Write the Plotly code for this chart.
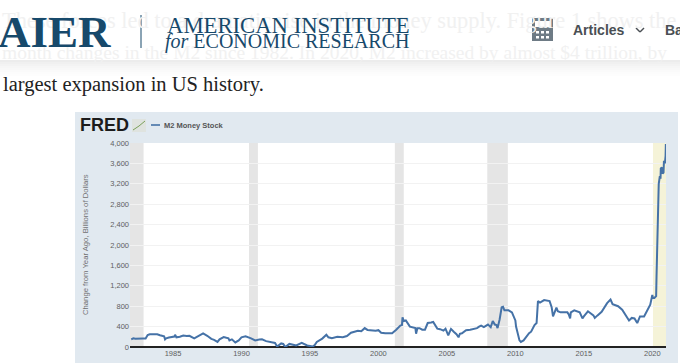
import plotly.graph_objects as go

W, H = 680, 363

# ---- data ----
years = [1981.95,1982.1,1982.25,1982.4,1982.6,1982.8,1983.0,1983.15,1983.3,1983.6,1983.85,1984.05,1984.2,1984.35,1984.42,1984.5,1984.7,1985.0,1985.1,1985.15,1985.25,1985.5,1985.75,
 1986.0,1986.2,1986.55,1986.85,1987.0,1987.2,1987.5,1987.8,1988.0,1988.1,1988.25,1988.4,1988.7,1988.9,1989.05,1989.12,1989.3,1989.55,1989.8,1990.0,1990.3,1990.7,
 1991.0,1991.3,1991.5,1991.8,1992.2,1992.45,1992.6,1992.9,1993.05,1993.2,1993.5,1993.8,1994.0,1994.4,1994.8,1995.2,1995.35,1995.5,1995.9,1996.2,1996.35,1996.6,1997.0,1997.4,1997.7,
 1998.0,1998.5,1998.75,1999.0,1999.2,1999.4,1999.8,2000.0,2000.2,2000.5,2000.75,2001.0,2001.3,2001.6,2001.72,2001.76,2001.85,2002.0,2002.3,2002.5,2002.7,2002.75,2002.8,2002.85,2003.0,2003.2,2003.4,2003.6,2003.85,2004.0,
 2004.3,2004.5,2004.75,2004.9,2005.1,2005.3,2005.5,2005.7,2005.85,2005.95,2006.1,2006.4,2006.7,2007.0,2007.2,2007.35,2007.5,2007.7,2008.0,2008.2,2008.35,2008.5,2008.62,2008.7,2008.85,2009.0,2009.1,2009.2,2009.5,2009.75,2009.9,2010.0,2010.05,
 2010.3,2010.4,2010.6,2011.0,2011.15,2011.4,2011.55,2011.65,2011.8,2012.1,2012.5,2012.65,2012.75,2013.0,2013.1,2013.3,2013.8,2013.9,2014.0,2014.05,2014.3,2014.7,2014.9,2015.0,2015.3,2015.7,2015.8,
 2016.0,2016.3,2016.7,2016.95,2017.1,2017.5,2017.8,2018.0,2018.3,2018.5,2018.7,2018.9,2019.0,2019.1,2019.4,2019.7,2019.85,2020.0,2020.05,2020.15,2020.28,2020.31,2020.35,2020.38,2020.42,2020.47,
 2020.55,2020.6,2020.62,2020.7,2020.75,2020.82,2020.85,2020.92,2020.97,2020.99,2021.0]
m2_change = [150,170,160,165,160,165,165,235,250,245,250,230,220,210,150,170,185,190,205,240,190,200,225,
 215,220,170,215,235,265,220,160,140,130,100,150,195,180,170,130,150,90,130,190,210,170,
 130,145,150,115,100,80,10,70,60,0,60,40,30,80,30,10,40,100,165,240,190,170,200,190,215,
 280,320,310,370,335,330,320,330,280,270,275,270,340,420,430,580,510,520,400,380,370,260,365,370,370,340,340,470,480,490,
 360,350,320,360,230,355,300,250,190,260,270,330,340,365,370,400,420,390,440,390,510,440,430,370,540,780,790,720,720,680,590,520,400,
 130,100,130,270,300,430,470,900,870,920,900,780,600,770,700,680,680,640,560,680,720,680,560,600,700,620,570,
 620,690,860,930,840,800,730,640,520,570,560,470,520,600,600,760,830,1020,960,960,1000,1400,2000,2600,3180,3200,
 3350,3300,3500,3520,3400,3420,3650,3600,3750,3980,3700]
recessions = [(1981.86,1982.85),(1990.55,1991.2),(2001.2,2001.85),(2007.95,2009.45)]
highlight = (2020.05,2021.0)
y_ticks = [0,400,800,1200,1600,2000,2400,2800,3200,3600,4000]
x_ticks = [1985,1990,1995,2000,2005,2010,2015,2020]

def px(x): return x / W
def py(y): return 1 - y / H

NAVY = "#17496b"
SANS = "Liberation Sans"
SERIF = "Liberation Serif"

shapes, ann = [], []
def rect(x0,y0,x1,y1,fill):
    shapes.append(dict(type="rect",xref="paper",yref="paper",x0=px(x0),x1=px(x1),y0=py(y0),y1=py(y1),
                       fillcolor=fill,line_width=0,layer="below"))
def seg(x0,y0,x1,y1,color,w=1):
    shapes.append(dict(type="line",xref="paper",yref="paper",x0=px(x0),x1=px(x1),y0=py(y0),y1=py(y1),
                       line=dict(color=color,width=w),layer="below"))
def text(x,y,t,size,color,font=SANS,bold=False,anchor="left"):
    ann.append(dict(xref="paper",yref="paper",x=px(x),y=py(y),text=("<b>%s</b>"%t if bold else t),showarrow=False,
                    xanchor=anchor,yanchor="middle",borderpad=0,borderwidth=0,
                    font=dict(size=size,color=color,family=font)))

# chart panel
rect(75,112,678,363,"#e1e9f0")
rect(130,143,666,347,"#ffffff")
for a,b in recessions:
    shapes.append(dict(type="rect",xref="x",yref="paper",x0=a,x1=b,y0=py(347),y1=py(143),fillcolor="#e5e5e5",line_width=0,layer="below"))
shapes.append(dict(type="rect",xref="x",yref="paper",x0=highlight[0],x1=highlight[1],y0=py(347),y1=py(143),fillcolor="#f5f3d8",line_width=0,layer="below"))

# page text behind header
text(3,84,"largest expansion in US history.",20.5,"#222222",SERIF)
text(2,20,"These forces led to a dramatic rise in the money supply. Figure 1 shows the",22.4,"#f1f1f1",SERIF)
text(2,52,"month changes in the M2 since 1982. In 2020, M2 increased by almost $4 trillion, by",19.5,"#f1f1f1",SERIF)

# header shadow
for i,c in enumerate(["#ececec","#f0f0f0","#f3f3f3","#f6f6f6","#f8f8f8","#fafafa","#fcfcfc","#fdfdfd"]):
    rect(0,60+i*2,W,62+i*2,c)

# logo
text(-2,32,"AIER",45,NAVY,SERIF,True)
seg(141,15,141,48,NAVY,1)
text(167,25,"AMERICAN INSTITUTE",22.7,NAVY,SERIF)
text(165,41,"<i>for</i> ECONOMIC RESEARCH",20,NAVY,SERIF)

# nav
rect(532,18,553,41,"#6e7b85")
rect(535,21,550,27,"#ffffff")
for yy in (31,36):
    for xx in (536,541,546):
        rect(xx,yy,xx+3,yy+2.5,"#ffffff")
text(573,30,"Articles",14,"#4a4f54",SANS,True)
seg(636,28,640,32,"#4a4f54",1.5); seg(640,32,644,28,"#4a4f54",1.5)
text(665,30,"Ba",14,"#4a4f54",SANS,True)

# FRED header
text(80,125,"FRED",18,"#1c1c1c",SANS,True)
rect(132,119,146,132,"#dfe3df")
seg(133,130,139,126,"#7aa05a",1); seg(139,126,145,121,"#7aa05a",1)
seg(151,125,160,125,"#4572a7",1.6)
text(164,125,"M2 Money Stock",7.5,"#555555",SANS,True)
ann.append(dict(xref="paper",yref="paper",x=px(85),y=py(245),text="Change from Year Ago, Billions of Dollars",textangle=-90,
                showarrow=False,xanchor="center",yanchor="middle",font=dict(size=7.7,color="#707070",family=SANS)))

fig = go.Figure(go.Scatter(x=years,y=m2_change,mode="lines",line=dict(color="#4572a7",width=2),
                           hoverinfo="skip",showlegend=False))
fig.update_layout(width=W,height=H,margin=dict(l=0,r=0,t=0,b=0),autosize=False,paper_bgcolor="#ffffff",plot_bgcolor="rgba(0,0,0,0)",
    shapes=shapes,annotations=ann,showlegend=False,
    font=dict(family=SANS,size=7.5,color="#555555"),
    xaxis=dict(domain=[px(130),px(666)],range=[1981.86,2021.0],automargin=False,tickmode="array",tickvals=x_ticks,ticktext=[str(v) for v in x_ticks],
               showgrid=False,zeroline=False,showline=False,ticks="",tickfont=dict(size=7.5,color="#606060",family=SANS)),
    yaxis=dict(domain=[py(347),py(143)],range=[0,4000],automargin=False,tickmode="array",tickvals=y_ticks,ticktext=[f"{v:,}" for v in y_ticks],
               gridcolor="#f2f2f2",gridwidth=1,zeroline=True,zerolinecolor="#222222",zerolinewidth=1.5,showline=False,ticks="",
               tickfont=dict(size=7.5,color="#606060",family=SANS)))
fig.write_html("out.html",config={"displayModeBar":False},
               post_script="document.body.style.margin='0';document.body.style.overflow='hidden';")
